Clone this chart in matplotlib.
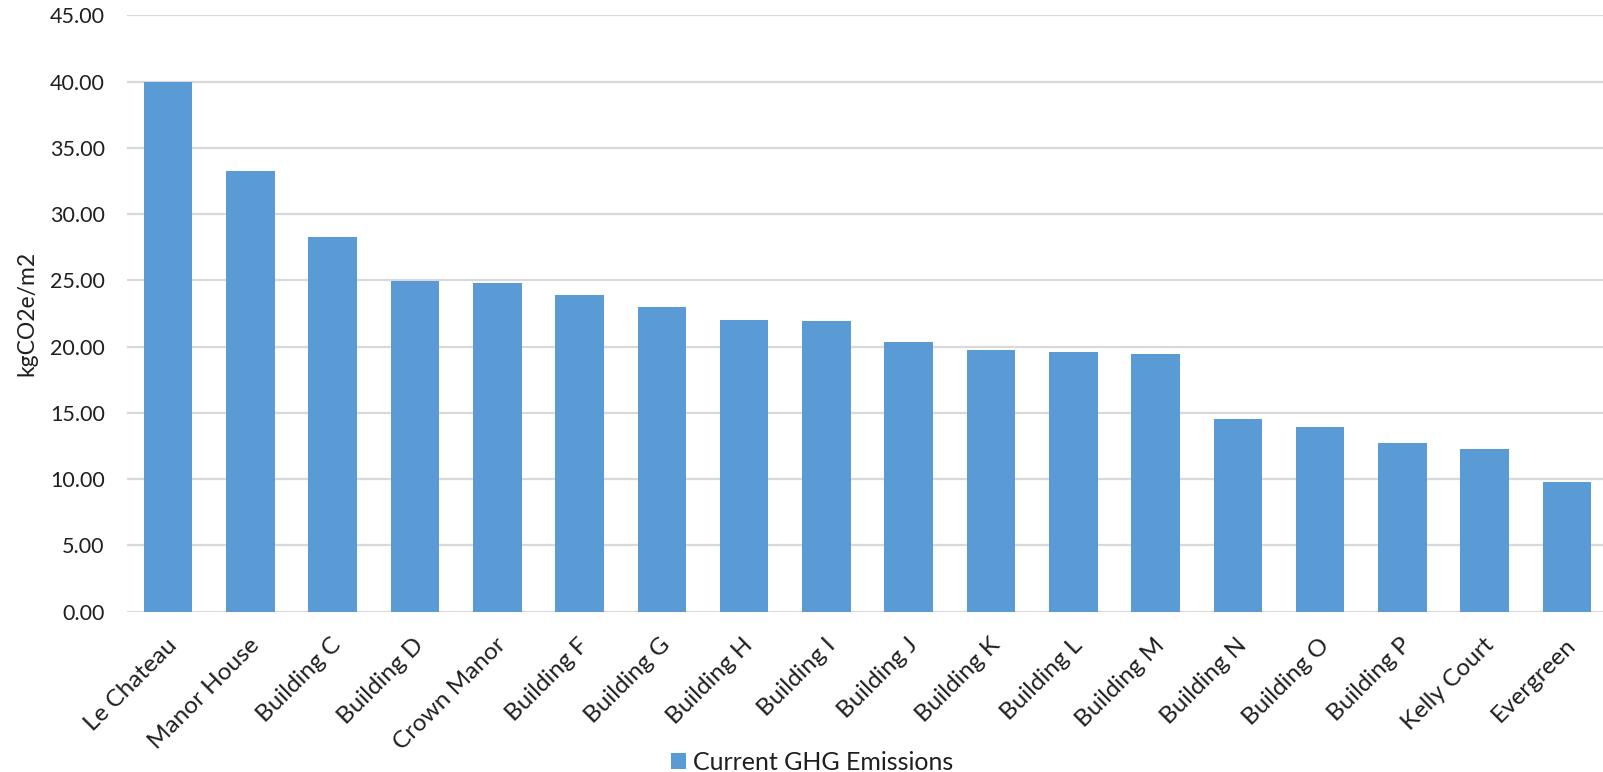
import matplotlib.pyplot as plt
import matplotlib.transforms as mtransforms
import numpy as np

buildings = [
    "Le Chateau", "Manor House", "Building C", "Building D", "Crown Manor",
    "Building F", "Building G", "Building H", "Building I", "Building J",
    "Building K", "Building L", "Building M", "Building N", "Building O",
    "Building P", "Kelly Court", "Evergreen",
]
ghg = [
    40.00, 33.28, 28.30, 24.98, 24.83, 23.92, 23.00, 21.98, 21.95,
    20.35, 19.75, 19.60, 19.45, 14.55, 13.95, 12.75, 12.30, 9.76,
]
yticks = np.arange(0, 46, 5)

plt.rcParams["font.family"] = ["Lato", "DejaVu Sans"]
text_col = "#1f1f1f"

fig = plt.figure(figsize=(16.03, 7.72), dpi=100)
ax = fig.add_axes([0.0792, 0.2077, 0.924, 0.7723])

x = np.arange(len(buildings))
ax.bar(x, ghg, width=0.59, color="#5B9BD5", zorder=2, label="Current GHG Emissions")

ax.set_xlim(-0.5, len(buildings) - 0.5)
ax.set_ylim(0, 45)
ax.set_yticks(yticks)
ax.set_yticklabels([f"{v:.2f}" for v in yticks], fontsize=15.5, color=text_col)
ax.yaxis.grid(True, color="#D9D9D9", linewidth=1.6, zorder=0)
ax.set_axisbelow(True)
for side in ["top", "right", "left", "bottom"]:
    ax.spines[side].set_visible(False)
ax.tick_params(axis="both", length=0)
ax.tick_params(axis="y", pad=16)

# slanted category names, each ending just right of its bar
ax.set_xticks(x)
ax.set_xticklabels(buildings, rotation=45, ha="right", va="baseline",
                   rotation_mode="anchor", fontsize=17.5, color=text_col)
ax.tick_params(axis="x", pad=25)
shift = mtransforms.ScaledTranslation(10 / 100, 0, fig.dpi_scale_trans)
for lbl in ax.get_xticklabels():
    lbl.set_transform(lbl.get_transform() + shift)

ax.set_ylabel("kgCO2e/m2", fontsize=16.5, color=text_col)
ax.yaxis.set_label_coords(-0.0608, 0.5)

fig.legend(loc="center", bbox_to_anchor=(0.5066, 0.0128), frameon=False,
           fontsize=18, handlelength=0.6, handleheight=0.6, handletextpad=0.3,
           labelcolor=text_col)

fig.savefig("out.png", dpi=100)
